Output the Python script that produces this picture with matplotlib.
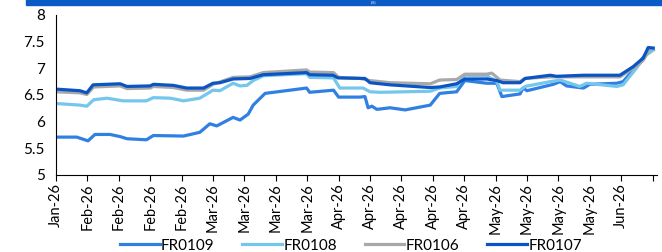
import matplotlib
matplotlib.use('Agg')
import matplotlib.pyplot as plt
from matplotlib.patches import Rectangle

plt.rcParams['font.family'] = ['Lato', 'DejaVu Sans']

# weekly tick labels (category axis, 5 trading days per tick)
tick_labels = ['Jan-26', 'Feb-26', 'Feb-26', 'Feb-26', 'Feb-26',
               'Mar-26', 'Mar-26', 'Mar-26', 'Mar-26',
               'Apr-26', 'Apr-26', 'Apr-26', 'Apr-26', 'Apr-26',
               'May-26', 'May-26', 'May-26', 'May-26', 'Jun-26', '']

# yields (x = trading-day index)
x_109 = [0, 3.3, 5.1, 6.2, 8.6, 10.2, 11.3, 14.4, 15.5, 20.3, 22.9, 24.5, 25.6, 28.2, 29.3, 30.6,
         31.4, 33.3, 39.9, 40.4, 44.2, 45.0, 48.4, 49.2, 49.7, 50.3, 51.1, 53.2, 55.6, 59.6, 61.1,
         63.8, 65.1, 68.6, 70.2, 71.0, 73.9, 74.4, 75.0, 79.2, 80.3, 81.3, 84.0, 85.0, 89.3, 90.3,
         92.4, 94.0, 95.1]
fr0109 = [5.71, 5.71, 5.64, 5.76, 5.76, 5.72, 5.68, 5.66, 5.74, 5.73, 5.80, 5.96, 5.92, 6.08, 6.03, 6.14,
          6.31, 6.53, 6.63, 6.55, 6.59, 6.46, 6.46, 6.47, 6.26, 6.29, 6.23, 6.26, 6.22, 6.31, 6.53,
          6.56, 6.77, 6.72, 6.72, 6.47, 6.52, 6.63, 6.58, 6.70, 6.75, 6.67, 6.63, 6.70, 6.72, 6.75,
          7.03, 7.28, 7.35]

x_108 = [0, 3.8, 4.9, 6.0, 8.1, 10.7, 14.4, 15.5, 18.2, 20.3, 22.9, 25.0, 26.1, 28.2, 29.3, 30.4,
         31.4, 33.0, 39.9, 40.4, 44.2, 45.2, 48.9, 50.0, 51.6, 59.6, 61.1, 63.8, 65.1, 68.6, 70.2,
         70.7, 73.9, 74.7, 78.7, 80.3, 83.4, 84.5, 89.3, 90.3, 92.4, 94.0, 95.1]
fr0108 = [6.34, 6.31, 6.29, 6.41, 6.44, 6.39, 6.39, 6.45, 6.44, 6.39, 6.44, 6.59, 6.58, 6.72, 6.67, 6.68,
          6.77, 6.86, 6.90, 6.83, 6.82, 6.63, 6.63, 6.56, 6.55, 6.57, 6.63, 6.66, 6.87, 6.86, 6.75,
          6.59, 6.59, 6.66, 6.75, 6.78, 6.66, 6.72, 6.66, 6.69, 7.00, 7.25, 7.34]

x_106 = [0, 3.8, 4.9, 6.0, 10.2, 11.3, 15.0, 15.5, 18.7, 20.8, 23.5, 25.0, 28.2, 30.9, 33.0, 39.9,
         40.4, 44.2, 45.0, 48.4, 50.0, 53.2, 59.6, 61.1, 63.8, 65.1, 68.6, 69.4, 70.7, 73.9, 74.7,
         78.7, 89.8, 91.9, 93.5, 94.6, 95.1]
fr0106 = [6.56, 6.54, 6.51, 6.65, 6.67, 6.62, 6.63, 6.66, 6.64, 6.59, 6.59, 6.70, 6.83, 6.84, 6.92, 6.97,
          6.93, 6.92, 6.83, 6.81, 6.77, 6.73, 6.71, 6.78, 6.79, 6.89, 6.89, 6.91, 6.78, 6.75, 6.81,
          6.84, 6.84, 7.00, 7.15, 7.37, 7.37]

x_107 = [0, 3.8, 4.9, 5.9, 10.2, 11.3, 15.0, 15.5, 18.7, 20.8, 23.5, 25.0, 26.1, 28.2, 30.9, 33.0,
         39.9, 40.4, 44.1, 44.9, 49.2, 50.0, 53.2, 59.6, 61.1, 63.8, 65.1, 68.6, 70.2, 71.2, 73.9,
         74.7, 78.7, 79.7, 84.0, 89.8, 91.9, 93.5, 94.3, 95.1]
fr0107 = [6.61, 6.58, 6.54, 6.69, 6.71, 6.66, 6.67, 6.70, 6.68, 6.63, 6.63, 6.72, 6.73, 6.80, 6.81, 6.88,
          6.92, 6.88, 6.87, 6.82, 6.81, 6.73, 6.69, 6.64, 6.65, 6.71, 6.80, 6.80, 6.77, 6.73, 6.73,
          6.81, 6.87, 6.85, 6.87, 6.87, 7.03, 7.19, 7.39, 7.38]

fig = plt.figure(figsize=(6.62, 2.52), dpi=100)
ax = fig.add_axes([0.0846, 0.3056, 0.9078, 0.635])

# header bar at the very top (title mostly cut off in the source)
fig.patches.append(Rectangle((0.04, 0.982), 0.96, 0.02, transform=fig.transFigure,
                             color='#0a5bc6', zorder=0))
fig.text(0.565, 0.9915, '(%)', color='white', fontsize=3, ha='center', va='center')

ax.plot(x_109, fr0109, color='#2f80e2', lw=2.3, label='FR0109')
ax.plot(x_108, fr0108, color='#74c6ec', lw=2.3, label='FR0108')
ax.plot(x_106, fr0106, color='#a8a8a8', lw=2.3, label='FR0106')
ax.plot(x_107, fr0107, color='#0a55c3', lw=2.3, label='FR0107')

ax.set_xlim(0, 95.7)
ax.set_ylim(5, 8)
ax.set_yticks([5, 5.5, 6, 6.5, 7, 7.5, 8])
ax.set_yticklabels(['5', '5.5', '6', '6.5', '7', '7.5', '8'])
ax.set_xticks(range(0, 100, 5))
ax.set_xticklabels(tick_labels, rotation=90)
ax.tick_params(axis='y', length=0, labelsize=11, pad=8)
ax.tick_params(axis='x', length=4, labelsize=10.5, pad=2, direction='out')
ax.spines['top'].set_visible(False)
ax.spines['right'].set_visible(False)

fig.legend(loc='center', bbox_to_anchor=(0.53, 0.025), ncol=4, frameon=False,
           fontsize=11, handlelength=2.6, handletextpad=0.1, columnspacing=1.8)

fig.savefig('out.png', dpi=100)
